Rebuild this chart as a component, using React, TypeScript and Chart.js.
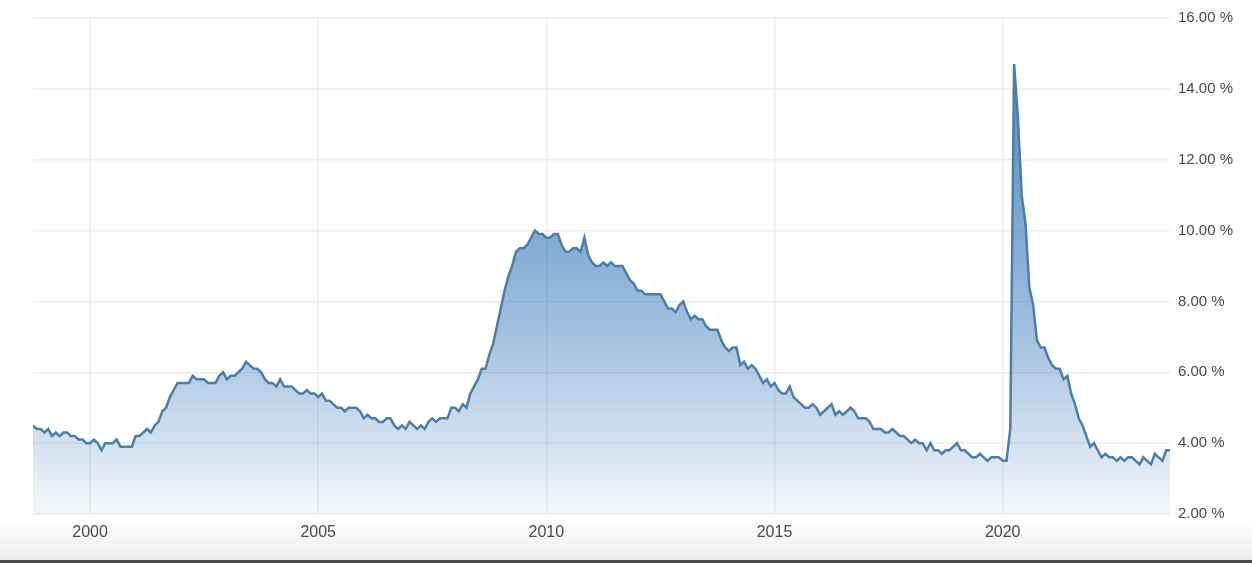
import { useEffect, useRef } from "react";
import { Chart, registerables } from "chart.js";

Chart.register(...registerables);

// US unemployment rate, monthly, starting October 1998
const firstYear = 1998;
const firstMonth = 10;
const rate1998 = [4.5, 4.4, 4.4];
const rate1999 = [4.3, 4.4, 4.2, 4.3, 4.2, 4.3, 4.3, 4.2, 4.2, 4.1, 4.1, 4.0];
const rate2000 = [4.0, 4.1, 4.0, 3.8, 4.0, 4.0, 4.0, 4.1, 3.9, 3.9, 3.9, 3.9];
const rate2001 = [4.2, 4.2, 4.3, 4.4, 4.3, 4.5, 4.6, 4.9, 5.0, 5.3, 5.5, 5.7];
const rate2002 = [5.7, 5.7, 5.7, 5.9, 5.8, 5.8, 5.8, 5.7, 5.7, 5.7, 5.9, 6.0];
const rate2003 = [5.8, 5.9, 5.9, 6.0, 6.1, 6.3, 6.2, 6.1, 6.1, 6.0, 5.8, 5.7];
const rate2004 = [5.7, 5.6, 5.8, 5.6, 5.6, 5.6, 5.5, 5.4, 5.4, 5.5, 5.4, 5.4];
const rate2005 = [5.3, 5.4, 5.2, 5.2, 5.1, 5.0, 5.0, 4.9, 5.0, 5.0, 5.0, 4.9];
const rate2006 = [4.7, 4.8, 4.7, 4.7, 4.6, 4.6, 4.7, 4.7, 4.5, 4.4, 4.5, 4.4];
const rate2007 = [4.6, 4.5, 4.4, 4.5, 4.4, 4.6, 4.7, 4.6, 4.7, 4.7, 4.7, 5.0];
const rate2008 = [5.0, 4.9, 5.1, 5.0, 5.4, 5.6, 5.8, 6.1, 6.1, 6.5, 6.8, 7.3];
const rate2009 = [7.8, 8.3, 8.7, 9.0, 9.4, 9.5, 9.5, 9.6, 9.8, 10.0, 9.9, 9.9];
const rate2010 = [9.8, 9.8, 9.9, 9.9, 9.6, 9.4, 9.4, 9.5, 9.5, 9.4, 9.8, 9.3];
const rate2011 = [9.1, 9.0, 9.0, 9.1, 9.0, 9.1, 9.0, 9.0, 9.0, 8.8, 8.6, 8.5];
const rate2012 = [8.3, 8.3, 8.2, 8.2, 8.2, 8.2, 8.2, 8.0, 7.8, 7.8, 7.7, 7.9];
const rate2013 = [8.0, 7.7, 7.5, 7.6, 7.5, 7.5, 7.3, 7.2, 7.2, 7.2, 6.9, 6.7];
const rate2014 = [6.6, 6.7, 6.7, 6.2, 6.3, 6.1, 6.2, 6.1, 5.9, 5.7, 5.8, 5.6];
const rate2015 = [5.7, 5.5, 5.4, 5.4, 5.6, 5.3, 5.2, 5.1, 5.0, 5.0, 5.1, 5.0];
const rate2016 = [4.8, 4.9, 5.0, 5.1, 4.8, 4.9, 4.8, 4.9, 5.0, 4.9, 4.7, 4.7];
const rate2017 = [4.7, 4.6, 4.4, 4.4, 4.4, 4.3, 4.3, 4.4, 4.3, 4.2, 4.2, 4.1];
const rate2018 = [4.0, 4.1, 4.0, 4.0, 3.8, 4.0, 3.8, 3.8, 3.7, 3.8, 3.8, 3.9];
const rate2019 = [4.0, 3.8, 3.8, 3.7, 3.6, 3.6, 3.7, 3.6, 3.5, 3.6, 3.6, 3.6];
const rate2020 = [3.5, 3.5, 4.4, 14.7, 13.2, 11.0, 10.2, 8.4, 7.9, 6.9, 6.7, 6.7];
const rate2021 = [6.4, 6.2, 6.1, 6.1, 5.8, 5.9, 5.4, 5.1, 4.7, 4.5, 4.2, 3.9];
const rate2022 = [4.0, 3.8, 3.6, 3.7, 3.6, 3.6, 3.5, 3.6, 3.5, 3.6, 3.6, 3.5];
const rate2023 = [3.4, 3.6, 3.5, 3.4, 3.7, 3.6, 3.5, 3.8, 3.8];

const unemploymentRate = [
  ...rate1998, ...rate1999, ...rate2000, ...rate2001, ...rate2002, ...rate2003,
  ...rate2004, ...rate2005, ...rate2006, ...rate2007, ...rate2008, ...rate2009,
  ...rate2010, ...rate2011, ...rate2012, ...rate2013, ...rate2014, ...rate2015,
  ...rate2016, ...rate2017, ...rate2018, ...rate2019, ...rate2020, ...rate2021,
  ...rate2022, ...rate2023,
];

const xTickValues = [2000, 2005, 2010, 2015, 2020];
const yTickValues = [2, 4, 6, 8, 10, 12, 14, 16];

const W = 1252;
const H = 563;

export default function App() {
  const canvasRef = useRef<HTMLCanvasElement | null>(null);

  useEffect(() => {
    const canvas = canvasRef.current;
    if (!canvas) return;
    const points = unemploymentRate.map((v, i) => ({
      x: firstYear + (firstMonth - 1 + i) / 12,
      y: v,
    }));
    const xMin = points[0].x;
    const xMax = points[points.length - 1].x;
    const family = "'Liberation Sans', Arial, sans-serif";
    const gridColor = "#ededed";

    const chart = new Chart(canvas, {
      type: "line",
      data: {
        datasets: [
          {
            data: points,
            borderColor: "#4c7eac",
            borderWidth: 2.5,
            pointRadius: 0,
            tension: 0,
            fill: "start",
            backgroundColor: (context: any) => {
              const { ctx, chartArea } = context.chart;
              if (!chartArea) return "rgba(60,125,185,0.3)";
              const g = ctx.createLinearGradient(0, chartArea.top, 0, chartArea.bottom);
              g.addColorStop(0, "rgba(55,120,185,0.9)");
              g.addColorStop(0.43, "rgba(55,120,185,0.63)");
              g.addColorStop(0.65, "rgba(55,120,185,0.45)");
              g.addColorStop(0.79, "rgba(55,120,185,0.29)");
              g.addColorStop(0.89, "rgba(55,120,185,0.18)");
              g.addColorStop(1, "rgba(55,120,185,0.05)");
              return g;
            },
          },
        ],
      },
      options: {
        responsive: false,
        animation: false,
        layout: { padding: { left: 33, top: 18, right: 0, bottom: 0 } },
        plugins: { legend: { display: false }, tooltip: { enabled: false } },
        scales: {
          x: {
            type: "linear",
            min: xMin,
            max: xMax,
            afterBuildTicks: (s: any) => {
              s.ticks = xTickValues.map((v) => ({ value: v }));
            },
            afterFit: (s: any) => {
              s.height = 49;
            },
            ticks: {
              callback: (v: any) => String(v),
              font: { family, size: 16 },
              color: "#4a4a4a",
              padding: 9,
              maxRotation: 0,
              autoSkip: false,
            },
            grid: { color: gridColor, drawTicks: false, lineWidth: 1.5 },
            border: { display: false },
          },
          y: {
            position: "right",
            min: 2,
            max: 16,
            afterBuildTicks: (s: any) => {
              s.ticks = yTickValues.map((v) => ({ value: v }));
            },
            afterFit: (s: any) => {
              s.width = W - 1170;
            },
            ticks: {
              callback: (v: any) => Number(v).toFixed(2) + " %",
              font: { family, size: 15 },
              color: "#4a4a4a",
              padding: 8,
            },
            grid: { color: gridColor, drawTicks: false, lineWidth: 1.5 },
            border: { display: false },
          },
        },
      },
    } as any);
    return () => chart.destroy();
  }, []);

  return (
    <div
      style={{
        position: "fixed",
        left: 0,
        top: 0,
        width: W,
        height: H,
        background:
          "linear-gradient(to bottom, #ffffff 0px, #ffffff 518px, #f6f6f6 540px, #ececec 558px)",
        overflow: "hidden",
      }}
    >
      <canvas ref={canvasRef} width={W} height={H} style={{ display: "block" }} />
      <div
        style={{
          position: "absolute",
          left: 0,
          bottom: 0,
          width: W,
          height: 3,
          background: "#4a4a4a",
        }}
      />
    </div>
  );
}
